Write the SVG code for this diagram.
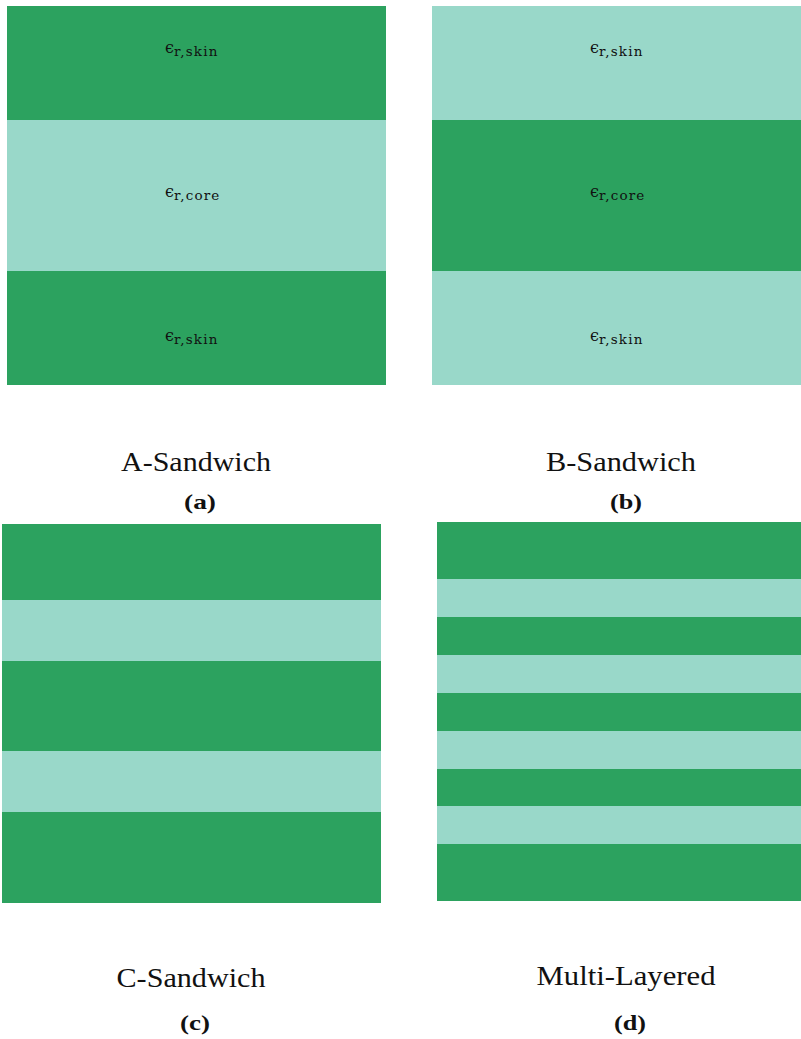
<svg xmlns="http://www.w3.org/2000/svg" width="801" height="1039" viewBox="0 0 801 1039">
<style>
.d{fill:#2ca25f}
.l{fill:#99d8c9}
.eps{font-family:"DejaVu Serif","Liberation Serif",serif;font-size:16px;fill:#111}
.sub{font-size:13.5px;letter-spacing:1.2px}
.cap{font-family:"Liberation Serif","DejaVu Serif",serif;font-size:28px;fill:#111;text-anchor:middle}
.lab{font-family:"Liberation Serif","DejaVu Serif",serif;font-size:22px;font-weight:bold;fill:#111;text-anchor:middle}
</style>
<rect width="801" height="1039" fill="#fff"/>
<g id="panel-a">
<rect class="d" x="7" y="6" width="379" height="114"/>
<rect class="l" x="7" y="120" width="379" height="151"/>
<rect class="d" x="7" y="271" width="379" height="114"/>
<text class="eps" x="165" y="53">ϵ<tspan class="sub" dy="3">r,skin</tspan></text>
<text class="eps" x="165" y="197">ϵ<tspan class="sub" dy="3">r,core</tspan></text>
<text class="eps" x="165" y="341">ϵ<tspan class="sub" dy="3">r,skin</tspan></text>
<text class="cap" x="196" y="471" textLength="150" lengthAdjust="spacingAndGlyphs">A-Sandwich</text>
<text class="lab" x="200" y="509" textLength="32" lengthAdjust="spacingAndGlyphs">(a)</text>
</g>
<g id="panel-b">
<rect class="l" x="432" y="6" width="369" height="114"/>
<rect class="d" x="432" y="120" width="369" height="151"/>
<rect class="l" x="432" y="271" width="369" height="114"/>
<text class="eps" x="590" y="53">ϵ<tspan class="sub" dy="3">r,skin</tspan></text>
<text class="eps" x="590" y="197">ϵ<tspan class="sub" dy="3">r,core</tspan></text>
<text class="eps" x="590" y="341">ϵ<tspan class="sub" dy="3">r,skin</tspan></text>
<text class="cap" x="621" y="471" textLength="150" lengthAdjust="spacingAndGlyphs">B-Sandwich</text>
<text class="lab" x="626" y="509" textLength="32" lengthAdjust="spacingAndGlyphs">(b)</text>
</g>
<g id="panel-c">
<rect class="d" x="2" y="524" width="379" height="76"/>
<rect class="l" x="2" y="600" width="379" height="61"/>
<rect class="d" x="2" y="661" width="379" height="90"/>
<rect class="l" x="2" y="751" width="379" height="61"/>
<rect class="d" x="2" y="812" width="379" height="91"/>
<text class="cap" x="191" y="987" textLength="149" lengthAdjust="spacingAndGlyphs">C-Sandwich</text>
<text class="lab" x="195" y="1030" textLength="30" lengthAdjust="spacingAndGlyphs">(c)</text>
</g>
<g id="panel-d">
<rect class="d" x="437" y="522" width="364" height="57"/>
<rect class="l" x="437" y="579" width="364" height="38"/>
<rect class="d" x="437" y="617" width="364" height="38"/>
<rect class="l" x="437" y="655" width="364" height="38"/>
<rect class="d" x="437" y="693" width="364" height="38"/>
<rect class="l" x="437" y="731" width="364" height="38"/>
<rect class="d" x="437" y="769" width="364" height="37"/>
<rect class="l" x="437" y="806" width="364" height="38"/>
<rect class="d" x="437" y="844" width="364" height="57"/>
<text class="cap" x="626" y="985" textLength="179" lengthAdjust="spacingAndGlyphs">Multi-Layered</text>
<text class="lab" x="630" y="1030" textLength="32" lengthAdjust="spacingAndGlyphs">(d)</text>
</g>
</svg>
